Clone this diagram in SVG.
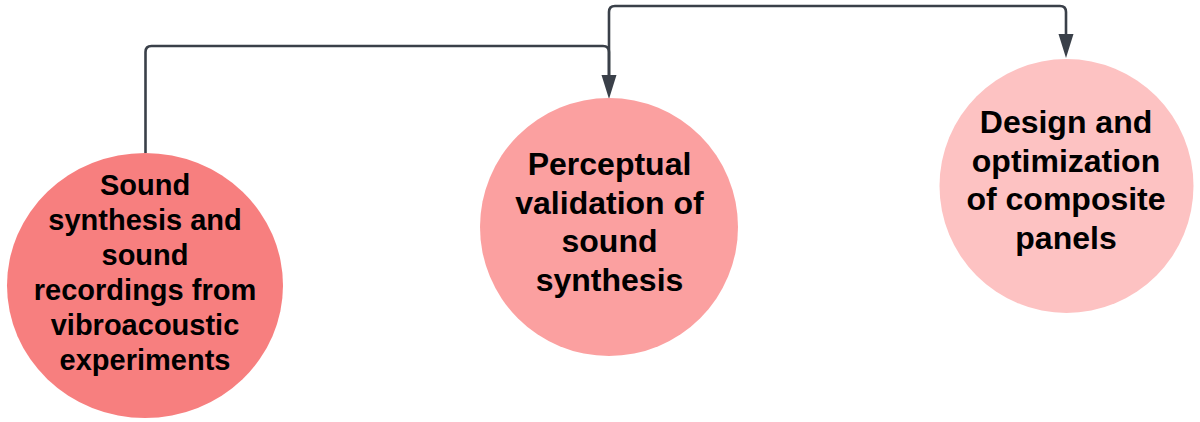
<svg xmlns="http://www.w3.org/2000/svg" width="1200" height="422" viewBox="0 0 1200 422">
<style>
.bg{fill:#ffffff}
.conn{fill:none;stroke:#3a4049;stroke-width:2.6;stroke-linejoin:round}
.head{fill:#3a4049}
.lbl{font-family:"Liberation Sans",Arial,sans-serif;font-weight:bold;fill:#000000;text-anchor:middle}
.l32{font-size:32px}
.l29{font-size:29px}
</style>
<rect class="bg" x="0" y="0" width="1200" height="422"/>
<g id="connectors">
  <path class="conn" d="M145.5,153 V52 Q145.5,46 151.5,46 H603 Q609,46 609,52 V77"/>
  <path class="conn" d="M609,77 V12 Q609,6 615,6 H1060 Q1066,6 1066,12 V35"/>
  <polygon class="head" points="601.5,75 616.5,75 609,99"/>
  <polygon class="head" points="1058.5,34 1073.5,34 1066,58"/>
</g>
<g id="node1">
  <ellipse cx="145" cy="285.5" rx="138" ry="132.5" fill="#f77f7f"/>
  <text class="lbl l29" x="145" y="195">Sound</text>
  <text class="lbl l29" x="145" y="230">synthesis and</text>
  <text class="lbl l29" x="145" y="265">sound</text>
  <text class="lbl l29" x="145" y="300">recordings from</text>
  <text class="lbl l29" x="145" y="335">vibroacoustic</text>
  <text class="lbl l29" x="145" y="370">experiments</text>
</g>
<g id="node2">
  <circle cx="609" cy="227" r="129" fill="#fba0a0"/>
  <text class="lbl l32" x="609.5" y="175">Perceptual</text>
  <text class="lbl l32" x="609.5" y="213.5">validation of</text>
  <text class="lbl l32" x="609.5" y="252">sound</text>
  <text class="lbl l32" x="609.5" y="290.5">synthesis</text>
</g>
<g id="node3">
  <circle cx="1066.5" cy="186" r="127" fill="#fdc2c2"/>
  <text class="lbl l32" x="1066" y="133">Design and</text>
  <text class="lbl l32" x="1066" y="171.5">optimization</text>
  <text class="lbl l32" x="1066" y="210">of composite</text>
  <text class="lbl l32" x="1066" y="248.5">panels</text>
</g>
</svg>
